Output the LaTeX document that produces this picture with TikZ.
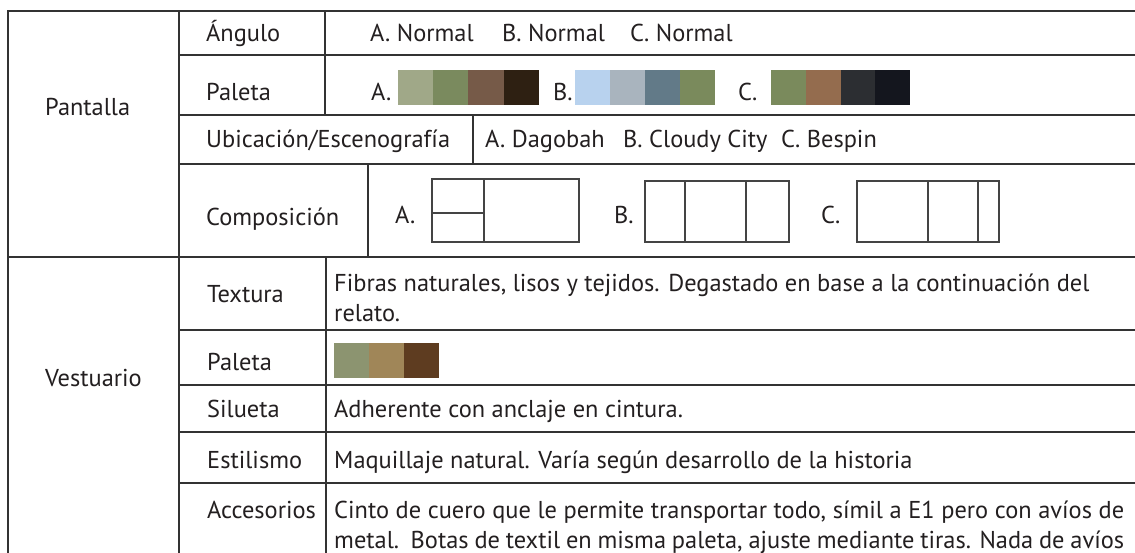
\documentclass[tikz,border=0pt]{standalone}
\usepackage{fontspec}
\setmainfont{PT Sans}
\usetikzlibrary{positioning}
\definecolor{ink}{HTML}{231F20}
\definecolor{rulegray}{HTML}{333333}
\definecolor{boxgray}{HTML}{444444}
% PALETTE COLOURS
\definecolor{paA1}{HTML}{A0A888}
\definecolor{paA2}{HTML}{7A8A5E}
\definecolor{paA3}{HTML}{765A48}
\definecolor{paA4}{HTML}{2E2012}
\definecolor{paB1}{HTML}{B8D2EE}
\definecolor{paB2}{HTML}{A9B4BE}
\definecolor{paB3}{HTML}{627A88}
\definecolor{paB4}{HTML}{7A8A5C}
\definecolor{paC1}{HTML}{7A8A5C}
\definecolor{paC2}{HTML}{946C4E}
\definecolor{paC3}{HTML}{2C2E32}
\definecolor{paC4}{HTML}{14161E}
\definecolor{paV1}{HTML}{8C9470}
\definecolor{paV2}{HTML}{A08658}
\definecolor{paV3}{HTML}{5E3C20}

\begin{document}
\begin{tikzpicture}[x=1pt, y=-1pt, font=\fontsize{24.4}{30}\selectfont,
    every node/.style={inner sep=0pt, anchor=base west, text=ink},
    rule/.style={draw=rulegray, line width=1.5pt},
    compbox/.style={draw=boxgray, line width=1.1pt}]
    \useasboundingbox (0,0) rectangle (1135,553);
    \fill[white] (0,0) rectangle (1135,553);
    % TABLE RULES
    \draw[rule] (8,553) -- (8,11) -- (1135,11);
    \draw[rule] (179,11) -- (179,553);
    \draw[rule] (8,257) -- (1135,257);
    \foreach \y in {55,115,164,330,385,432,483}
        \draw[rule] (179,\y) -- (1135,\y);
    \draw[rule] (325,11) -- (325,115);
    \draw[rule] (473,115) -- (473,164);
    \draw[rule] (368,164) -- (368,257);
    \draw[rule] (326,257) -- (326,553);
    % PANTALLA
    \node (pantalla) at (45,116) {Pantalla};
    \node (angulo) at (206,42) {Ángulo};
    \node (angA) at (370,41.5) {A. Normal};
    \node (angB) at (502,41.5) {B. Normal};
    \node (angC) at (630,41.5) {C. Normal};
    \node (paleta) at (206,100.5) {Paleta};
    \node (palA) at (371,100.5) {A.};
    \node (palB) at (553,100.5) {B.};
    \node (palC) at (738,100.5) {C.};
    \foreach \c [count=\i from 0] in {paA1,paA2,paA3,paA4}
        \fill[\c] (398+35.2*\i,70) rectangle +(35.2,35);
    \foreach \c [count=\i from 0] in {paB1,paB2,paB3,paB4}
        \fill[\c] (575+35*\i,70) rectangle +(35,35);
    \foreach \c [count=\i from 0] in {paC1,paC2,paC3,paC4}
        \fill[\c] (771+34.8*\i,70) rectangle +(34.8,35);
    \node (ubicacion) at (206,148) {Ubicación/Escenografía};
    \node (ubiA) at (485,148) {A. Dagobah};
    \node (ubiB) at (623,148) {B. Cloudy City};
    \node (ubiC) at (781,148) {C. Bespin};
    \node (composicion) at (206,226) {Composición};
    \node (compA) at (395,224) {A.};
    \node (compB) at (614,224) {B.};
    \node (compC) at (821,224) {C.};
    % COMPOSITION SKETCHES
    \draw[compbox] (432,179) rectangle (579,242);
    \draw[compbox] (484,179) -- (484,242) (432,213) -- (484,213);
    \draw[compbox] (645,181) rectangle (789,242);
    \draw[compbox] (685,181) -- (685,242) (746,181) -- (746,242);
    \draw[compbox] (857,181) rectangle (999,242);
    \draw[compbox] (928,181) -- (928,242) (978,181) -- (978,242);
    % VESTUARIO
    \node (vestuario) at (45,386) {Vestuario};
    \node (textura) at (207,302) {Textura};
    \node (texLa) at (334,292) {Fibras naturales, lisos y tejidos. Degastado en base a la continuación del};
    \node (texLb) at (334,322) {relato.};
    \node (vpaleta) at (207,370) {Paleta};
    \foreach \c [count=\i from 0] in {paV1,paV2,paV3}
        \fill[\c] (334+35*\i,343) rectangle +(35,35);
    \node (silueta) at (207,417) {Silueta};
    \node (silText) at (334,417) {Adherente con anclaje en cintura.};
    \node (estilismo) at (207,468) {Estilismo};
    \node (estText) at (334,468) {Maquillaje natural. Varía según desarrollo de la historia};
    \node (accesorios) at (207,518) {Accesorios};
    \node (accLa) at (334,518) {\makebox[790pt][s]{Cinto de cuero que le permite transportar todo, símil a E1 pero con avíos de}};
    \node (accLb) at (334,548) {\makebox[790pt][s]{metal.\ \ Botas de textil en misma paleta, ajuste mediante tiras. Nada de avíos}};
\end{tikzpicture}
\end{document}
